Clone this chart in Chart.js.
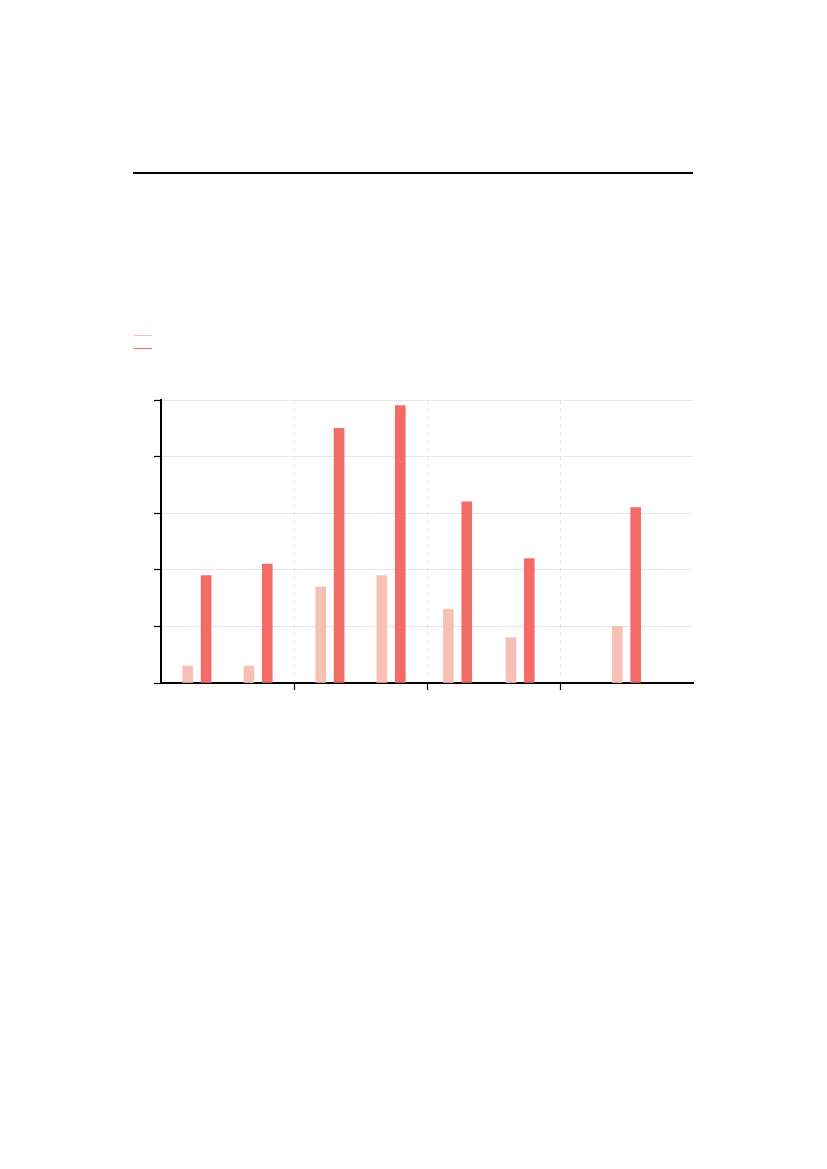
<!DOCTYPE html>
<html>
<head>
<meta charset="utf-8">
<script src="https://cdn.jsdelivr.net/npm/chart.js@4/dist/chart.umd.min.js"></script>
<style>
  body { margin: 0; background: #fff; width: 827px; height: 1169px; position: relative; font-family: "DejaVu Sans", sans-serif; }
  #rule { position: absolute; left: 133px; top: 172px; width: 560px; height: 2px; background: #000; }
  .swatch { position: absolute; left: 134px; width: 18px; }
  #chartBox { position: absolute; left: 140px; top: 390px; width: 570px; height: 320px; }
</style>
</head>
<body>
<div id="rule"></div>
<div class="swatch" style="top:334.5px;height:1px;background:#f8bfb5"></div>
<div class="swatch" style="top:347.5px;height:1.3px;background:#f26b67"></div>
<div id="chartBox"><canvas id="myChart"></canvas></div>
<script>
// group centres on the x axis
const periods = [2019.27, 2019.73, 2020.27, 2020.73, 2021.23, 2021.70, 2022.50];
const lightValues = [3, 3, 17, 19, 13, 8, 10];
const darkValues = [19, 21, 45, 49, 32, 22, 31];
const xTicks = [2019, 2020, 2021, 2022, 2023];
const yTicks = [0, 10, 20, 30, 40, 50];

const pairOffset = 0.069;

function points(values, shift) {
    return values.map((v, i) => ({ x: periods[i] + shift, y: v }));
}

function edgeTick(c) {
    return c.index === 0 || c.index === xTicks.length - 1;
}

const ctx = document.getElementById('myChart').getContext('2d');

const myChart = new Chart(ctx, {
    type: 'bar',
    data: {
        datasets: [
            {
                label: '',
                data: points(lightValues, -pairOffset),
                backgroundColor: '#f8bfb5',
                grouped: false,
                barThickness: 10,
                maxBarThickness: 10
            },
            {
                label: '',
                data: points(darkValues, pairOffset),
                backgroundColor: '#f26b67',
                grouped: false,
                barThickness: 10,
                maxBarThickness: 10
            }
        ]
    },
    options: {
        responsive: true,
        maintainAspectRatio: false,
        animation: false,
        layout: { padding: { left: 14, top: 10, right: 17, bottom: 20 } },
        plugins: {
            legend: { display: false },
            tooltip: { enabled: false }
        },
        scales: {
            x: {
                type: 'linear',
                offset: false,
                min: xTicks[0],
                max: xTicks[xTicks.length - 1],
                afterBuildTicks: axis => { axis.ticks = xTicks.map(v => ({ value: v })); },
                ticks: { display: false },
                grid: {
                    offset: false,
                    color: c => edgeTick(c) ? 'rgba(0,0,0,0)' : '#e3e3e3',
                    tickColor: c => edgeTick(c) ? 'rgba(0,0,0,0)' : '#000',
                    tickBorderDash: [],
                    tickLength: 7,
                    tickWidth: 1.2
                },
                border: { color: '#000', width: 2, dash: [4, 4] }
            },
            y: {
                min: yTicks[0],
                max: yTicks[yTicks.length - 1],
                afterBuildTicks: axis => { axis.ticks = yTicks.map(v => ({ value: v })); },
                ticks: { display: false },
                grid: {
                    color: '#e6e6e6',
                    tickColor: '#000',
                    tickLength: 7,
                    tickWidth: 1.2
                },
                border: { color: '#000', width: 2 }
            }
        }
    }
});
</script>
</body>
</html>
